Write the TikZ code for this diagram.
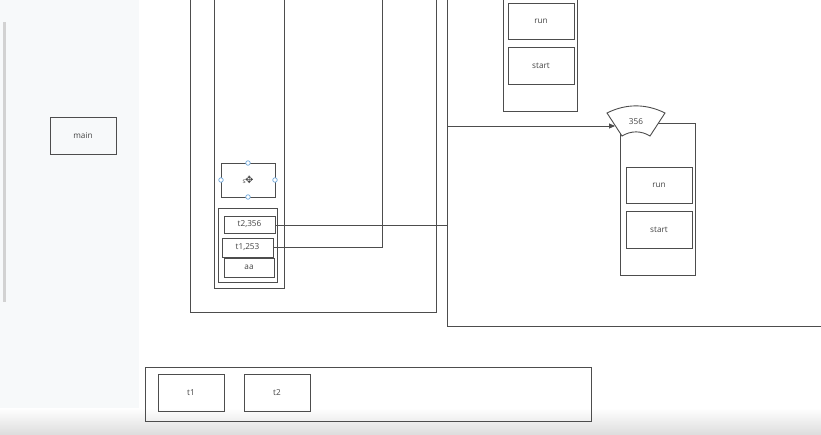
\documentclass[tikz,border=0pt]{standalone}
\usepackage{fontspec}
\setmainfont{Open Sans}
\newfontfamily\symfont{DejaVu Sans}
\usetikzlibrary{arrows.meta}
\definecolor{ln}{HTML}{4D4D4D}
\definecolor{tx}{HTML}{444444}
\definecolor{panel}{HTML}{F7F9FA}
\definecolor{hdl}{HTML}{6FA8DC}
\begin{document}
\begin{tikzpicture}[x=1pt,y=-1pt,
  box/.style={draw=ln,line width=0.9pt},
  lbl/.style={font=\fontsize{8.2}{10}\selectfont,text=tx},
  conn/.style={draw=ln,line width=0.9pt},
  handle/.style={circle,draw=hdl,fill=white,line width=0.7pt,inner sep=0pt,minimum size=4.5pt}]
\useasboundingbox (0,0) rectangle (821,434);
% backgrounds
\fill[white] (0,0) rectangle (821,434);
\fill[panel] (0,0) rectangle (139,434);
\fill[gray!35] (3,22) rectangle (6,302);
\shade[top color=white,bottom color=black!13] (0,408) rectangle (821,434);
% main
\draw[box] (50,117) rectangle (116,154);
\node[lbl] (main) at (83,135.5) {main};
% big box A and inner B
\draw[box] (190.5,-2) |- (436.5,312) -- (436.5,-2);
\draw[box] (214,-2) |- (284,288) -- (284,-2);
% selected box
\draw[box] (221,163) rectangle (275,197);
\node[lbl,font=\fontsize{6.5}{7}\selectfont,inner sep=0pt] (sel) at (248,180) {s\kern-0.5pt{\symfont\fontsize{10}{10}\selectfont ✥}};
\node[handle] (h1) at (248,163) {};
\node[handle] (h2) at (248,197) {};
\node[handle] (h3) at (221,180) {};
\node[handle] (h4) at (275,180) {};
% stack
\draw[box] (218,208) rectangle (277,282);
\draw[box] (224,216) rectangle (275,233);
\node[lbl] (t2a) at (249.5,224.5) {t2,356};
\draw[box] (222,238) rectangle (273,257);
\node[lbl] (t1a) at (247.5,247.5) {t1,253};
\draw[box] (224,258) rectangle (274,277);
\node[lbl] (aa) at (249,267.5) {aa};
\coordinate (t2e) at (275,225);
\coordinate (t1e) at (273,247);
% box C
\draw[box] (447,-2) |- (823,326.5);
% box D
\draw[box] (503,-2) |- (577,111) -- (577,-2);
\draw[box] (508,3) rectangle (574,39);
\node[lbl] (runD) at (541,21) {run};
\draw[box] (508,47) rectangle (574,84);
\node[lbl] (startD) at (541,65.5) {start};
% box E
\draw[box] (620,123) rectangle (695,275);
\draw[box] (626,167) rectangle (692,203);
\node[lbl] (runE) at (659,185) {run};
\draw[box] (626,211) rectangle (692,248);
\node[lbl] (startE) at (659,229.5) {start};
% connectors
\coordinate (topA) at (382,-2);
\draw[conn] (t1e) -- (382,247) -- (topA);
\coordinate (s356w) at (615,126);
\draw[conn,-{Triangle[length=6pt,width=5pt]}] (t2e) -- (447,225) -- (447,126) -- (s356w);
% 356 shape
\draw[box,fill=white] (607,113) .. controls (626,103.5) and (646,103.5) .. (665,113)
   -- (650,136) .. controls (641,130.5) and (631,130.5) .. (622,136) -- cycle;
\node[lbl] (n356) at (636,121.5) {356};
% bottom panel
\draw[box] (145,367.5) rectangle (591.5,421.5);
\draw[box] (158,374.5) rectangle (224,411.5);
\node[lbl] (bt1) at (191,393) {t1};
\draw[box] (244,374.5) rectangle (310.5,411.5);
\node[lbl] (bt2) at (277,393) {t2};
\end{tikzpicture}
\end{document}
